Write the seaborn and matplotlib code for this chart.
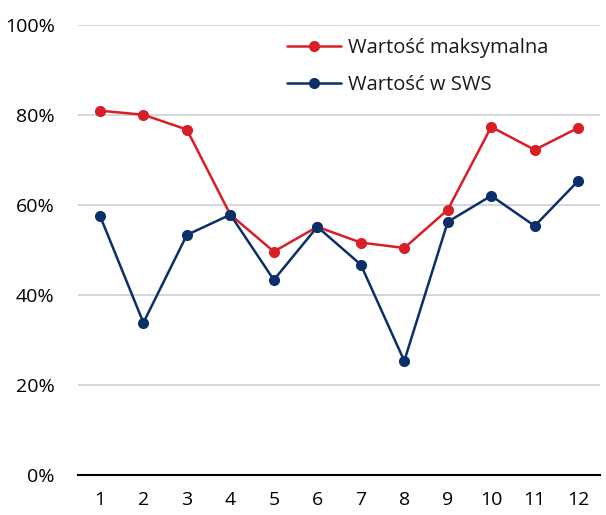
import seaborn as sns
import pandas as pd
import matplotlib.pyplot as plt
from matplotlib.ticker import PercentFormatter

# values (in %)
months = [1, 2, 3, 4, 5, 6, 7, 8, 9, 10, 11, 12]
max_values = [80.9, 80.0, 76.7, 57.8, 49.6, 55.1, 51.6, 50.4, 58.9, 77.3, 72.2, 77.1]
sws_values = [57.6, 33.8, 53.3, 57.8, 43.3, 55.1, 46.7, 25.3, 56.2, 62.0, 55.3, 65.3]
series_names = ["Wartość maksymalna", "Wartość w SWS"]

df = pd.concat(
    [
        pd.DataFrame({"x": months, "value": max_values, "series": series_names[0]}),
        pd.DataFrame({"x": months, "value": sws_values, "series": series_names[1]}),
    ]
)

palette = {series_names[0]: "#d81e27", series_names[1]: "#0a2f69"}

sns.set_style("white")
plt.rcParams["font.family"] = ["Open Sans", "DejaVu Sans"]

fig = plt.figure(figsize=(6.06, 5.15), dpi=100)
ax = fig.add_axes([0.129, 0.078, 0.861, 0.874])

sns.lineplot(
    data=df,
    x="x",
    y="value",
    hue="series",
    palette=palette,
    marker="o",
    markersize=8,
    markeredgewidth=0,
    linewidth=1.8,
    ax=ax,
)

ax.set_xlim(0.5, 12.5)
ax.set_ylim(0, 100)
ax.set_xticks(months)
ax.set_yticks([0, 20, 40, 60, 80, 100])
ax.yaxis.set_major_formatter(PercentFormatter(decimals=0))
ax.grid(axis="y", color="#d6d6d6", linewidth=1.4)
ax.set_axisbelow(True)
ax.tick_params(axis="both", labelsize=14, length=0, colors="#000000")
ax.tick_params(axis="x", pad=12)
ax.tick_params(axis="y", pad=17)
ax.set_xlabel("")
ax.set_ylabel("")

for side in ["top", "right", "left"]:
    ax.spines[side].set_visible(False)
ax.spines["bottom"].set_color("black")
ax.spines["bottom"].set_linewidth(1.5)

leg = ax.legend(
    loc="upper left",
    bbox_to_anchor=(0.365, 1.01),
    frameon=False,
    fontsize=14.5,
    handlelength=2.7,
    handletextpad=0.35,
    labelspacing=0.85,
)
for t in leg.get_texts():
    t.set_color("#1a1a1a")

fig.savefig("out.png", dpi=100)
